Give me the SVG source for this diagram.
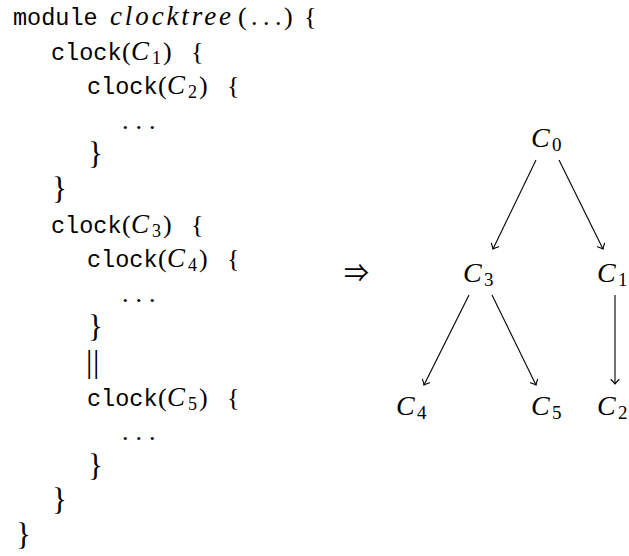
<svg xmlns="http://www.w3.org/2000/svg" width="629" height="556" viewBox="0 0 629 556">
  <style>
    text { fill: #000; }
    .tt { font-family: "Liberation Mono", "DejaVu Sans Mono", monospace; font-size: 23.5px; }
    .rm { font-family: "Liberation Serif", "DejaVu Serif", serif; font-size: 26px; }
    .it { font-family: "Liberation Serif", "DejaVu Serif", serif; font-size: 27px; font-style: italic; }
    .sub { font-family: "Liberation Serif", "DejaVu Serif", serif; font-size: 18px; }
    .brace { font-family: "Liberation Serif", "DejaVu Serif", serif; font-size: 31px; }
    .bar { font-family: "Liberation Serif", "DejaVu Serif", serif; font-size: 32px; }
    .arrow { font-family: "Liberation Serif", "Noto Sans CJK JP", "DejaVu Sans", sans-serif; font-size: 25px; }
    .node { font-family: "Liberation Serif", "DejaVu Serif", serif; font-size: 28px; font-style: italic; }
    .nsub { font-family: "Liberation Serif", "DejaVu Serif", serif; font-size: 19px; }
    .edge { stroke: #000; stroke-width: 1.1; fill: none; marker-end: url(#tip); }
  </style>
  <defs>
    <marker id="tip" viewBox="-6 -5 8 10" markerWidth="8" markerHeight="10" refX="0" refY="0" orient="auto" markerUnits="userSpaceOnUse">
      <path d="M -4.5,-4 Q -1.5,-1 0,0 Q -1.5,1 -4.5,4" stroke="#000" stroke-width="1.1" fill="none" stroke-linecap="round"/>
    </marker>
  </defs>

  <!-- source listing -->
  <g id="code">
    <g id="line-module">
      <text class="tt" x="13" y="25">module</text>
      <text class="it" x="110" y="25" textLength="121" lengthAdjust="spacing">clocktree</text>
      <text class="rm" x="238" y="25">(</text>
      <text class="rm" x="251 263 275" y="25">...</text>
      <text class="rm" x="284" y="25">)</text>
      <text class="rm" x="304" y="25">{</text>
    </g>
    <g id="line-c1">
      <text class="tt" x="51" y="60">clock</text>
      <text class="rm" x="122" y="60">(</text>
      <text class="it" x="131" y="60">C</text>
      <text class="sub" x="152" y="64">1</text>
      <text class="rm" x="163" y="60">)</text>
      <text class="rm" x="191" y="60">{</text>
    </g>
    <g id="line-c2">
      <text class="tt" x="87" y="94">clock</text>
      <text class="rm" x="158" y="94">(</text>
      <text class="it" x="167" y="94">C</text>
      <text class="sub" x="188" y="98">2</text>
      <text class="rm" x="199" y="94">)</text>
      <text class="rm" x="227" y="94">{</text>
    </g>
    <text class="rm" x="122 135.5 149" y="129">...</text>
    <text class="brace" x="88" y="164">}</text>
    <text class="brace" x="52" y="199">}</text>
    <g id="line-c3">
      <text class="tt" x="51" y="233">clock</text>
      <text class="rm" x="122" y="233">(</text>
      <text class="it" x="131" y="233">C</text>
      <text class="sub" x="152" y="237">3</text>
      <text class="rm" x="163" y="233">)</text>
      <text class="rm" x="191" y="233">{</text>
    </g>
    <g id="line-c4">
      <text class="tt" x="87" y="267">clock</text>
      <text class="rm" x="158" y="267">(</text>
      <text class="it" x="167" y="267">C</text>
      <text class="sub" x="188" y="271">4</text>
      <text class="rm" x="199" y="267">)</text>
      <text class="rm" x="227" y="267">{</text>
    </g>
    <text class="rm" x="122 135.5 149" y="302">...</text>
    <text class="brace" x="88" y="337">}</text>
    <!-- parallel composition bar -->
    <text class="bar" x="86 93" y="372">||</text>
    <g id="line-c5">
      <text class="tt" x="87" y="406">clock</text>
      <text class="rm" x="158" y="406">(</text>
      <text class="it" x="167" y="406">C</text>
      <text class="sub" x="188" y="410">5</text>
      <text class="rm" x="199" y="406">)</text>
      <text class="rm" x="227" y="406">{</text>
    </g>
    <text class="rm" x="122 135.5 149" y="440">...</text>
    <text class="brace" x="88" y="476">}</text>
    <text class="brace" x="52" y="510">}</text>
    <text class="brace" x="16" y="545">}</text>
  </g>

  <!-- implication sign -->
  <text id="implies" class="arrow" x="344" y="282">⇒</text>

  <!-- clock tree -->
  <g id="edges">
    <line class="edge" x1="536" y1="160" x2="493" y2="249"/>
    <line class="edge" x1="559" y1="160" x2="603" y2="249"/>
    <line class="edge" x1="469" y1="295" x2="424" y2="385"/>
    <line class="edge" x1="492" y1="295" x2="536" y2="385"/>
    <line class="edge" x1="615" y1="295" x2="615" y2="384"/>
  </g>
  <g id="c0"><text class="node" x="531" y="147">C</text><text class="nsub" x="552" y="151">0</text></g>
  <g id="c3"><text class="node" x="463" y="282">C</text><text class="nsub" x="484" y="286">3</text></g>
  <g id="c1"><text class="node" x="597" y="282">C</text><text class="nsub" x="618" y="286">1</text></g>
  <g id="c4"><text class="node" x="396" y="415">C</text><text class="nsub" x="417" y="419">4</text></g>
  <g id="c5"><text class="node" x="531" y="415">C</text><text class="nsub" x="552" y="419">5</text></g>
  <g id="c2"><text class="node" x="597" y="415">C</text><text class="nsub" x="618" y="419">2</text></g>
</svg>
